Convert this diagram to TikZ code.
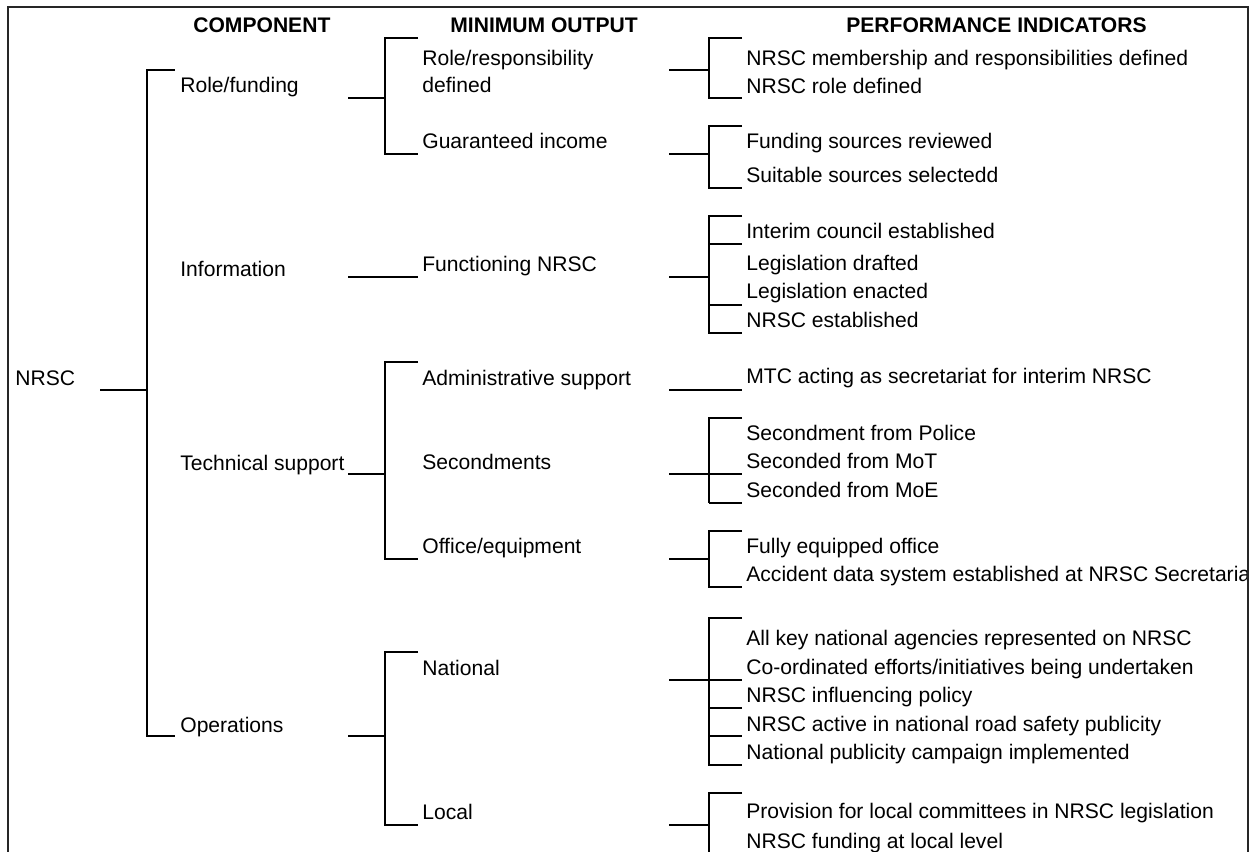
\documentclass[tikz,border=0pt]{standalone}
\usepackage{fontspec}
\setmainfont{Liberation Sans}
\usepackage{tikz}
\usetikzlibrary{positioning}
\tikzset{
  colhead/.style={
    anchor=base west, inner sep=0pt,
    font=\fontsize{12}{15.3}\selectfont\bfseries,
  },
  item/.style={
    anchor=base west, inner sep=0pt,
    font=\fontsize{12}{15.3}\selectfont,
  },
  bar/.style={line width=1.7pt},
  thinbar/.style={line width=1.1pt},
  frame/.style={line width=1.1pt, draw=black!85},
}

\begin{document}
\begin{tikzpicture}[x=0.02cm, y=-0.02cm]

  \useasboundingbox (0,0) rectangle (1252,852);

  \begin{scope}
  \clip (8,7) rectangle (1247,900);

  % column headings
  \node[colhead] (hcomp) at (193,32) {COMPONENT};
  \node[colhead] (hout) at (450,32) {MINIMUM OUTPUT};
  \node[colhead] (hperf) at (846,32) {PERFORMANCE INDICATORS};

  % root and components
  \node[item] (nrsc) at (15,385) {NRSC};
  \node[item] (role) at (180,92) {Role/funding};
  \node[item] (info) at (180,276) {Information};
  \node[item] (tech) at (180,470) {Technical support};
  \node[item] (ops) at (180,732) {Operations};

  % minimum outputs (base of a two-line node is its last line)
  \node[item, align=left] (resp) at (422,92) {Role/responsibility\\defined};
  \node[item] (income) at (422,148) {Guaranteed income};
  \node[item] (func) at (422,271) {Functioning NRSC};
  \node[item] (admin) at (422,385) {Administrative support};
  \node[item] (second) at (422,469) {Secondments};
  \node[item] (office) at (422,553) {Office/equipment};
  \node[item] (natl) at (422,675) {National};
  \node[item] (local) at (422,819) {Local};

  % performance indicators
  \node[item] (members) at (746,65) {NRSC membership and responsibilities defined};
  \node[item] (roledef) at (746,93) {NRSC role defined};
  \node[item] (sources) at (746,148) {Funding sources reviewed};
  \node[item] (selected) at (746,182) {Suitable sources selectedd};
  \node[item] (interim) at (746,238) {Interim council established};
  \node[item] (drafted) at (746,270) {Legislation drafted};
  \node[item] (enacted) at (746,298) {Legislation enacted};
  \node[item] (established) at (746,327) {NRSC established};
  \node[item] (mtc) at (746,383) {MTC acting as secretariat for interim NRSC};
  \node[item] (police) at (746,440) {Secondment from Police};
  \node[item] (mot) at (746,468) {Seconded from MoT};
  \node[item] (moe) at (746,497) {Seconded from MoE};
  \node[item] (equipped) at (746,553) {Fully equipped office};
  \node[item] (accident) at (746,581) {Accident data system established at NRSC Secretariat};
  \node[item] (agencies) at (746,645) {All key national agencies represented on NRSC};
  \node[item] (efforts) at (746,674) {Co-ordinated efforts/initiatives being undertaken};
  \node[item] (policy) at (746,702) {NRSC influencing policy};
  \node[item] (active) at (746,731) {NRSC active in national road safety publicity};
  \node[item] (campaign) at (746,759) {National publicity campaign implemented};
  \node[item] (provision) at (746,818) {Provision for local committees in NRSC legislation};
  \node[item] (localfund) at (746,848) {NRSC funding at local level};

  % NRSC -> components
  \coordinate (jroot) at (147,390);
  \draw[bar] (100,390) -- (jroot);
  \draw[thinbar] (147,70) -- (147,736);
  \draw[bar] (146,70) -- (175,70);
  \draw[thinbar] (146,736) -- (175,736);

  % components -> outputs
  \coordinate (jrole) at (385,98);
  \draw[bar] (348,98) -- (jrole);
  \draw[bar] (418,38) -- (385,38) -- (385,154) -- (418,154);
  \draw[thinbar] (348,277) -- (418,277);
  \coordinate (jtech) at (385,474);
  \draw[thinbar] (348,474) -- (jtech);
  \draw[bar] (418,362) -- (385,362) -- (385,559) -- (418,559);
  \coordinate (jops) at (385,736);
  \draw[thinbar] (348,736) -- (jops);
  \draw[bar] (418,652) -- (385,652) -- (385,825) -- (418,825);

  % outputs -> indicators
  \draw[bar] (669,70) -- (709,70);
  \draw[bar] (742,38) -- (709,38) -- (709,98) -- (742,98);
  \draw[bar] (669,154) -- (709,154);
  \draw[bar] (742,126) -- (709,126) -- (709,188) -- (742,188);
  \draw[thinbar] (669,277) -- (709,277);
  \draw[bar] (742,216) -- (709,216) -- (709,333) -- (742,333);
  \draw[bar] (709,244) -- (742,244);
  \draw[bar] (709,305) -- (742,305);
  \draw[bar] (669,390) -- (742,390);
  \draw[thinbar] (669,474) -- (742,474);
  \draw[bar] (742,418) -- (709,418) -- (709,503);
  \draw[thinbar] (709,503) -- (742,503);
  \draw[bar] (669,559) -- (709,559);
  \draw[bar] (742,531) -- (709,531) -- (709,587) -- (742,587);
  \draw[bar] (669,680) -- (742,680);
  \draw[bar] (742,618) -- (709,618) -- (709,765) -- (742,765);
  \draw[thinbar] (709,708) -- (742,708);
  \draw[thinbar] (709,736) -- (742,736);
  \draw[bar] (669,825) -- (709,825);
  \draw[bar] (742,793) -- (709,793) -- (709,870);
  \end{scope}

  % frame
  \draw[frame] (8,870) -- (8,7) -- (1248,7) -- (1248,870);

\end{tikzpicture}
\end{document}
